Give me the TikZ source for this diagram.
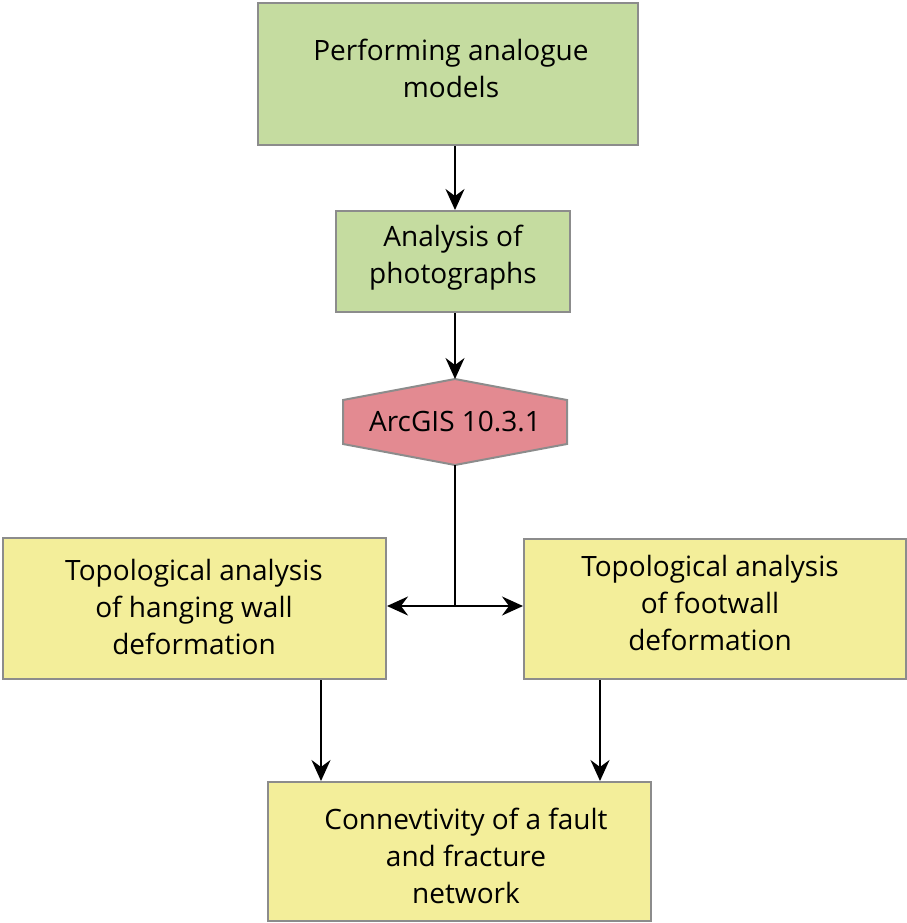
\documentclass[tikz,border=0pt]{standalone}
\usepackage{fontspec}
\setmainfont{Open Sans}
\usetikzlibrary{arrows.meta,positioning}
\definecolor{boxgreen}{HTML}{C5DCA0}
\definecolor{boxpink}{HTML}{E38A91}
\definecolor{boxyellow}{HTML}{F3EE9A}
\definecolor{boxborder}{HTML}{8C8C8C}
\tikzset{
  flowbox/.style={draw=boxborder, line width=2pt, inner sep=0pt},
  flowtext/.style={align=center, inner sep=0pt, font=\fontsize{28}{37}\selectfont},
  conn/.style={line width=2pt, -{Stealth[length=21pt,width=19pt,inset=7pt]}},
  plainline/.style={line width=2pt}
}
\begin{document}
\begin{tikzpicture}[x=1pt,y=-1pt]
\useasboundingbox (0,0) rectangle (906,923);
% boxes
\node[flowbox, fill=boxgreen, minimum width=380pt, minimum height=142pt] (a) at (448,74) {};
\node[flowtext] (at) at (451,68.5) {Performing analogue\\models};
\node[flowbox, fill=boxgreen, minimum width=234pt, minimum height=101pt] (b) at (453,261.5) {};
\node[flowtext] (bt) at (453,258) {Analysis of\\photographs};
% hexagon
\coordinate (htop) at (455,379);
\coordinate (hbot) at (455,465);
\filldraw[draw=boxborder, fill=boxpink, line width=2pt]
  (htop) -- (567,400) -- (567,444) -- (hbot) -- (343,444) -- (343,400) -- cycle;
\node[flowtext] (c) at (455,422) {ArcGIS 10.3.1};
\node[flowbox, fill=boxyellow, minimum width=383pt, minimum height=141pt] (l) at (194.5,608.5) {};
\node[flowtext] (lt) at (194,607) {Topological analysis\\of hanging wall\\deformation};
\node[flowbox, fill=boxyellow, minimum width=382pt, minimum height=140pt] (r) at (715,609) {};
\node[flowtext] (rt) at (710,603) {Topological analysis\\of footwall\\deformation};
\node[flowbox, fill=boxyellow, minimum width=383pt, minimum height=139pt] (d) at (459.5,851.5) {};
\node[flowtext] (dt) at (466,856) {Connevtivity of a fault\\and fracture\\network};
% connectors
\draw[conn] (a.south -| htop) -- (b.north -| htop);
\draw[conn] (b.south -| htop) -- (htop);
\coordinate (split) at (455,606);
\draw[plainline] (hbot) -- (split);
\draw[conn] (split) -- (split -| l.east);
\draw[conn] (split) -- (split -| r.west);
\coordinate (lx) at (321,0);
\coordinate (rx) at (600,0);
\draw[conn] (l.south -| lx) -- (d.north -| lx);
\draw[conn] (r.south -| rx) -- (d.north -| rx);
\end{tikzpicture}
\end{document}
